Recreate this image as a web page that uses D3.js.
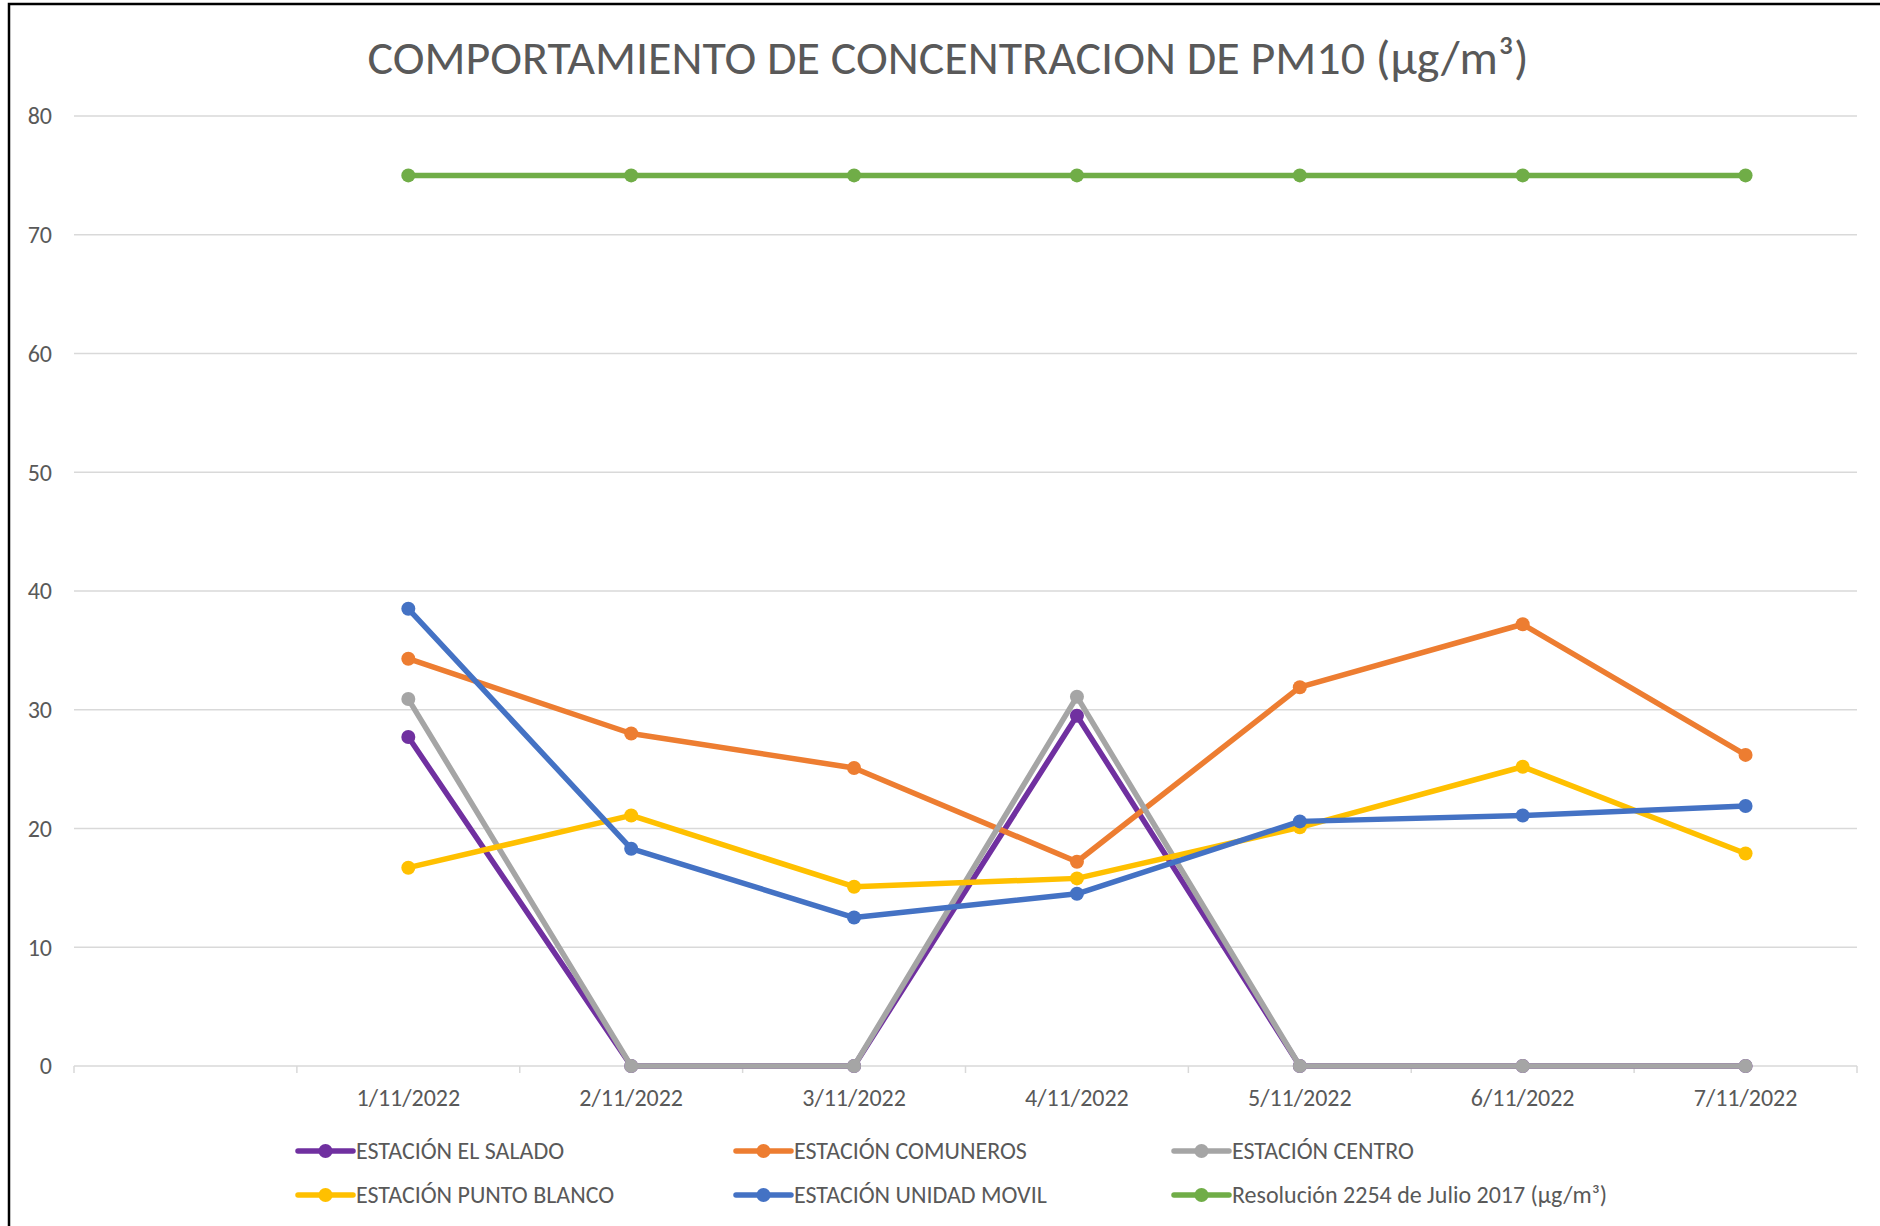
<!DOCTYPE html>
<html>
<head>
<meta charset="utf-8">
<script src="https://cdn.jsdelivr.net/npm/d3@7"></script>
<style>
  body { margin: 0; background: #fff; }
  svg { display: block; font-family: Calibri, Carlito, Lato, sans-serif; }
</style>
</head>
<body>
<svg width="1880" height="1226"></svg>
<script>
// categories (first one is an empty slot in the original sheet)
var categories = ["", "1/11/2022", "2/11/2022", "3/11/2022", "4/11/2022", "5/11/2022", "6/11/2022", "7/11/2022"];
var dates = categories.slice(1);

var elSalado    = [27.7, 0, 0, 29.5, 0, 0, 0];
var comuneros   = [34.3, 28.0, 25.1, 17.2, 31.9, 37.2, 26.2];
var centro      = [30.9, 0, 0, 31.1, 0, 0, 0];
var puntoBlanco = [16.7, 21.1, 15.1, 15.8, 20.1, 25.2, 17.9];
var unidadMovil = [38.5, 18.3, 12.5, 14.5, 20.6, 21.1, 21.9];
var resolucion  = [75, 75, 75, 75, 75, 75, 75];

var seriesNames = ["ESTACIÓN EL SALADO", "ESTACIÓN COMUNEROS", "ESTACIÓN CENTRO",
                   "ESTACIÓN PUNTO BLANCO", "ESTACIÓN UNIDAD MOVIL", "Resolución 2254 de Julio 2017 (µg/m³)"];
var seriesValues = [elSalado, comuneros, centro, puntoBlanco, unidadMovil, resolucion];
var seriesColors = ["#7030A0", "#ED7D31", "#A5A5A5", "#FFC000", "#4472C4", "#70AD47"];

var yTicks = [0, 10, 20, 30, 40, 50, 60, 70, 80];

var svg = d3.select("svg");

// frame (cropped on right and bottom)
svg.append("rect")
    .attr("x", 9).attr("y", 4)
    .attr("width", 1900).attr("height", 1300)
    .attr("fill", "none")
    .attr("stroke", "#000")
    .attr("stroke-width", 2.5);

var x = d3.scaleBand()
    .domain(categories)
    .range([74, 1857])
    .padding(0);

var y = d3.scaleLinear()
    .domain([0, 80])
    .range([1066, 116]);

// gridlines
svg.append("g")
  .selectAll("line")
  .data(yTicks.filter(function(d) { return d > 0; }))
  .enter().append("line")
    .attr("x1", 74).attr("x2", 1857)
    .attr("y1", function(d) { return y(d); })
    .attr("y2", function(d) { return y(d); })
    .attr("stroke", "#D9D9D9")
    .attr("stroke-width", 1.5);

// y labels
svg.append("g")
  .selectAll("text")
  .data(yTicks)
  .enter().append("text")
    .attr("x", 52)
    .attr("y", function(d) { return y(d); })
    .attr("dy", "0.35em")
    .attr("text-anchor", "end")
    .attr("fill", "#595959")
    .attr("font-size", 24)
    .text(function(d) { return d; });

// x axis
var xAxis = svg.append("g")
    .attr("transform", "translate(0," + y(0) + ")");
xAxis.append("line")
    .attr("x1", 74).attr("x2", 1857)
    .attr("stroke", "#D9D9D9").attr("stroke-width", 1.5);
xAxis.selectAll("line.tick")
  .data(categories.concat(["end"]))
  .enter().append("line")
    .attr("class", "tick")
    .attr("x1", function(d, i) { return 74 + i * x.bandwidth(); })
    .attr("x2", function(d, i) { return 74 + i * x.bandwidth(); })
    .attr("y1", 0).attr("y2", 7)
    .attr("stroke", "#D9D9D9").attr("stroke-width", 1.5);
xAxis.selectAll("text")
  .data(dates)
  .enter().append("text")
    .attr("x", function(d) { return x(d) + x.bandwidth() / 2; })
    .attr("y", 40)
    .attr("text-anchor", "middle")
    .attr("fill", "#595959")
    .attr("font-size", 24)
    .text(function(d) { return d; });

// series
var line = d3.line()
    .x(function(d, i) { return x(dates[i]) + x.bandwidth() / 2; })
    .y(function(d) { return y(d); });

seriesValues.forEach(function(vals, s) {
  var g = svg.append("g");
  g.append("path")
      .datum(vals)
      .attr("d", line)
      .attr("fill", "none")
      .attr("stroke", seriesColors[s])
      .attr("stroke-width", 5.5)
      .attr("stroke-linejoin", "round");
  g.selectAll("circle")
    .data(vals)
    .enter().append("circle")
      .attr("cx", function(d, i) { return x(dates[i]) + x.bandwidth() / 2; })
      .attr("cy", function(d) { return y(d); })
      .attr("r", 7)
      .attr("fill", seriesColors[s]);
});

// title
svg.append("text")
    .attr("x", 948)
    .attr("y", 74)
    .attr("text-anchor", "middle")
    .attr("fill", "#595959")
    .attr("font-size", 47)
    .attr("font-weight", 300)
    .attr("textLength", 1161)
    .attr("lengthAdjust", "spacingAndGlyphs")
    .text("COMPORTAMIENTO DE CONCENTRACION DE PM10 (µg/m³)");

// legend
var legend = svg.append("g");
var item = legend.selectAll("g")
  .data(seriesNames)
  .enter().append("g")
    .attr("transform", function(d, i) {
      return "translate(" + (298 + (i % 3) * 438) + "," + (1151 + Math.floor(i / 3) * 44) + ")";
    });
item.append("line")
    .attr("x1", 0).attr("x2", 55)
    .attr("stroke", function(d, i) { return seriesColors[i]; })
    .attr("stroke-width", 5.5)
    .attr("stroke-linecap", "round");
item.append("circle")
    .attr("cx", 27.5).attr("r", 7)
    .attr("fill", function(d, i) { return seriesColors[i]; });
item.append("text")
    .attr("x", 58)
    .attr("dy", "0.35em")
    .attr("fill", "#595959")
    .attr("font-size", 24)
    .text(function(d) { return d; });
</script>
</body>
</html>
